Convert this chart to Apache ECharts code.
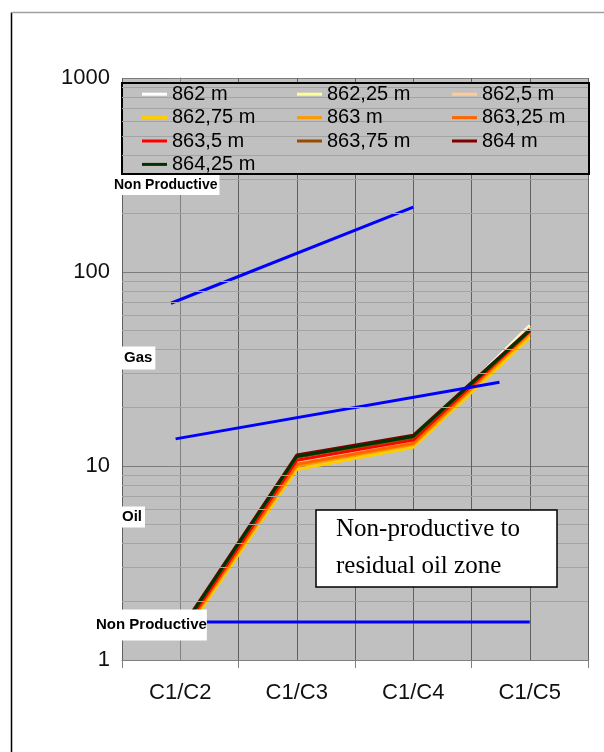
<!DOCTYPE html>
<html>
<head>
<meta charset="utf-8">
<script src="https://cdn.jsdelivr.net/npm/echarts@6/dist/echarts.min.js"></script>
<style>
  html, body { margin: 0; padding: 0; background: #fff; }
  #chart { width: 604px; height: 752px; }
</style>
</head>
<body>
<div id="chart"></div>
<script>
// Ratio categories on the x axis
const categories = ['C1/C2', 'C1/C3', 'C1/C4', 'C1/C5'];

// Depth curves (ratio values per category)
const depthNames = ['862 m', '862,25 m', '862,5 m', '862,75 m', '863 m',
                    '863,25 m', '863,5 m', '863,75 m', '864 m', '864,25 m'];
const depthColors = ['#ffffff', '#ffff99', '#ffcc99', '#ffcc00', '#ff9900',
                     '#ff6600', '#ff0000', '#994c00', '#800000', '#003300'];
const d862    = [1.35, 10.6, 13.5, 53.0];
const d86225  = [1.34, 10.5, 13.4, 52.0];
const d8625   = [1.33, 10.3, 13.2, 51.5];
const d86275  = [1.27, 9.6, 12.5, 46.0];
const d863    = [1.31, 10.0, 12.9, 48.0];
const d86325  = [1.33, 10.2, 13.1, 49.0];
const d8635   = [1.36, 10.7, 13.6, 49.5];
const d86375  = [1.40, 11.1, 14.0, 50.0];
const d864    = [1.43, 11.4, 14.4, 50.5];
const d86425  = [1.41, 11.2, 14.2, 50.0];
const depthValues = [d862, d86225, d8625, d86275, d863, d86325, d8635, d86375, d864, d86425];

// Zone boundary lines: [category position, ratio]
const gasUpperBoundary = [[-0.08, 69], [2, 216]];
const oilGasBoundary   = [[-0.04, 13.8], [2.74, 27]];
const oilLowerBoundary = [[0, 1.57], [3, 1.57]];

// Log axis ticks and minor grid values
const yTicks = [1, 10, 100, 1000];
const minorGrid = [2, 3, 4, 5, 6, 7, 8, 9, 20, 30, 40, 50, 60, 70, 80, 90,
                   200, 300, 400, 500, 600, 700, 800, 900];

// Zone labels
const zoneLabels = ['Non Productive', 'Gas', 'Oil', 'Non Productive'];
const noteText = 'Non-productive to\nresidual oil zone';

const chart = echarts.init(document.getElementById('chart'), null, { renderer: 'canvas' });

const depthSeries = depthNames.map((name, i) => ({
  name: name,
  type: 'line',
  xAxisIndex: 0,
  data: depthValues[i],
  symbol: 'none',
  lineStyle: { color: depthColors[i], width: 3 },
  itemStyle: { color: depthColors[i] },
  z: 3,
  silent: true
}));

const boundarySeries = [gasUpperBoundary, oilGasBoundary, oilLowerBoundary].map(d => ({
  type: 'line',
  xAxisIndex: 1,
  data: d,
  symbol: 'none',
  lineStyle: { color: '#0000ff', width: 3 },
  z: 4,
  silent: true
}));

const minorGridSeries = {
  type: 'line',
  xAxisIndex: 1,
  data: [],
  silent: true,
  z: 1,
  markLine: {
    silent: true,
    symbol: 'none',
    label: { show: false },
    lineStyle: { color: '#a4a4a4', width: 1, type: 'solid' },
    animation: false,
    data: minorGrid.map(v => ({ yAxis: v }))
  }
};

const labelStyle = {
  fill: '#000',
  font: 'bold 15px "Liberation Sans", Arial, sans-serif',
  backgroundColor: '#ffffff',
  verticalAlign: 'middle',
  align: 'left'
};

const option = {
  animation: false,
  backgroundColor: '#ffffff',
  grid: {
    left: 122, right: 16, top: 78, bottom: 92,
    show: true, backgroundColor: '#c0c0c0', borderWidth: 0
  },
  legend: {
    data: depthNames,
    left: 142, top: 84, width: 470,
    padding: 0,
    itemGap: 3,
    itemWidth: 25, itemHeight: 3,
    icon: 'rect',
    selectedMode: false,
    z: 6,
    textStyle: {
      fontSize: 20, lineHeight: 20.4, width: 122,
      color: '#000', fontFamily: '"Liberation Sans", Arial, sans-serif'
    }
  },
  xAxis: [{
    type: 'category',
    data: categories,
    boundaryGap: true,
    axisLine: { lineStyle: { color: '#808080', width: 1 } },
    axisTick: { show: true, length: 8, lineStyle: { color: '#808080' } },
    axisLabel: {
      fontSize: 22, color: '#111', margin: 22,
      fontFamily: '"Liberation Sans", Arial, sans-serif'
    },
    splitLine: { show: false }
  }, {
    type: 'value',
    min: -0.5, max: 3.5, interval: 0.5,
    position: 'bottom',
    axisLine: { show: false },
    axisTick: { show: false },
    axisLabel: { show: false },
    splitLine: { show: true, lineStyle: { color: '#606060', width: 1 } }
  }],
  yAxis: {
    type: 'log',
    logBase: 10,
    min: yTicks[0], max: yTicks[yTicks.length - 1],
    axisLine: { show: true, lineStyle: { color: '#808080', width: 1 } },
    axisTick: { show: true, length: 8, lineStyle: { color: '#808080' } },
    axisLabel: {
      fontSize: 22, color: '#111', margin: 12,
      fontFamily: '"Liberation Sans", Arial, sans-serif',
      formatter: v => String(Math.round(v))
    },
    splitLine: { show: true, lineStyle: { color: '#7c7c7c', width: 1 } }
  },
  graphic: [
    // page frame
    { type: 'line', shape: { x1: 11.5, y1: 12.5, x2: 11.5, y2: 752 },
      style: { stroke: '#000', lineWidth: 1.5 }, z: 1 },
    { type: 'line', shape: { x1: 11.5, y1: 12.5, x2: 604, y2: 12.5 },
      style: { stroke: '#a0a0a0', lineWidth: 1.5 }, z: 1 },
    // legend box
    { type: 'rect', shape: { x: 122, y: 83, width: 467, height: 91 },
      style: { fill: '#c0c0c0', stroke: '#000', lineWidth: 2 }, z: 5 },
    // zone labels
    { type: 'text', x: 112, y: 185, z: 10,
      style: Object.assign({}, labelStyle, { text: zoneLabels[0], padding: [3, 2, 3, 2],
        font: 'bold 14px "Liberation Sans", Arial, sans-serif' }) },
    { type: 'text', x: 122, y: 358, z: 10,
      style: Object.assign({ text: zoneLabels[1], padding: [4, 3, 4, 2] }, labelStyle) },
    { type: 'text', x: 120, y: 517, z: 10,
      style: Object.assign({ text: zoneLabels[2], padding: [3, 3, 3, 2] }, labelStyle) },
    { type: 'text', x: 93, y: 625, z: 10,
      style: Object.assign({ text: zoneLabels[3], padding: [8, 0, 8, 3] }, labelStyle) },
    // note box
    { type: 'rect', shape: { x: 316, y: 510, width: 241, height: 77 },
      style: { fill: '#ffffff', stroke: '#000', lineWidth: 1.5 }, z: 10 },
    { type: 'text', x: 336, y: 548, z: 11,
      style: {
        text: noteText, fill: '#000',
        font: '25px "Liberation Serif", "Times New Roman", serif',
        lineHeight: 37, verticalAlign: 'middle', align: 'left'
      } }
  ],
  series: [minorGridSeries].concat(depthSeries, boundarySeries)
};

chart.setOption(option);
</script>
</body>
</html>
